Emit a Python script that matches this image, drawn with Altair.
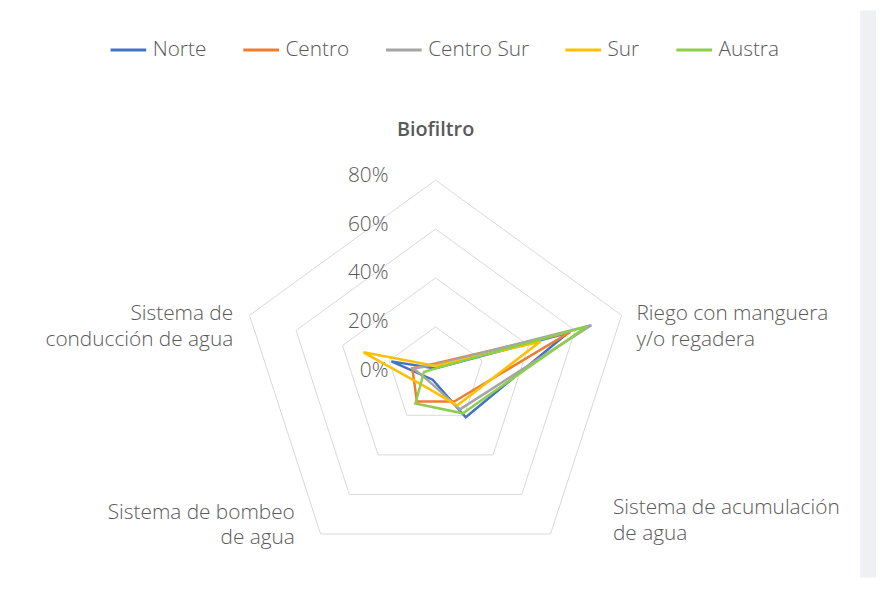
import math
import altair as alt
import pandas as pd

# ---- data ----
categories = [
    "Biofiltro",
    "Riego con manguera y/o regadera",
    "Sistema de acumulación de agua",
    "Sistema de bombeo de agua",
    "Sistema de conducción de agua",
]
category_lines = [
    "Biofiltro",
    "Riego con manguera\ny/o regadera",
    "Sistema de acumulación\nde agua",
    "Sistema de bombeo\nde agua",
    "Sistema de\nconducción de agua",
]
series = ["Norte", "Centro", "Centro Sur", "Sur", "Austra"]
colors = ["#4472C4", "#ED7D31", "#A5A5A5", "#FFC000", "#8CCF4D"]

norte = [3, 57, 21, 2, 19]
centro = [5, 58, 13, 13, 10]
centro_sur = [4.5, 67, 17, 3.5, 9.5]
sur = [4, 45, 15, 6, 31]
austra = [3, 65, 19, 14, 5]

grid_levels = [20, 40, 60, 80]
tick_levels = [0, 20, 40, 60, 80]
tick_labels = ["0%", "20%", "40%", "60%", "80%"]

# ---- tables built from the arrays ----
n = len(categories)
values = [norte, centro, centro_sur, sur, austra]
rows = []
for s, vals in zip(series, values):
    for i in range(n + 1):
        rows.append({"serie": s, "idx": i, "value": vals[i % n]})
lines_df = pd.DataFrame(rows)

grid_df = pd.DataFrame(
    [{"level": lv, "idx": i, "value": lv} for lv in grid_levels for i in range(n + 1)]
)
ticks_df = pd.DataFrame({"idx": [0] * len(tick_levels), "value": tick_levels, "label": tick_labels})
cat_df = pd.DataFrame(
    {"idx": list(range(n)), "value": [max(grid_levels)] * n, "label": category_lines}
)

# ---- layout ----
W, H = 860, 572
cx, cy = 431.5, 368.5          # centre of the radar inside the plot area (px)
ppu = 197.4 / 80               # pixels per percentage point
xdom = [-cx / ppu, (W - cx) / ppu]
ydom = [-(H - cy) / ppu, cy / ppu]

FONT = "Open Sans"
TXT = "#595959"

xs = alt.Scale(domain=xdom, nice=False, zero=False)
ys = alt.Scale(domain=ydom, nice=False, zero=False)
X = alt.X("x:Q", scale=xs, axis=None)
Y = alt.Y("y:Q", scale=ys, axis=None)


def polar(ch):
    return ch.transform_calculate(
        x=f"datum.value*sin(2*PI*datum.idx/{n})",
        y=f"datum.value*cos(2*PI*datum.idx/{n})",
    )


# light grey page frame at the right edge of the white chart panel
frame = alt.Chart(pd.DataFrame({"p": [0]})).mark_rect(color="#eff0f4").encode(
    x=alt.value(W), x2=alt.value(W + 16), y=alt.value(0), y2=alt.value(H)
)

grid = polar(alt.Chart(grid_df)).mark_line(color="#d9d9d9", strokeWidth=1).encode(
    x=X, y=Y, detail="level:N", order="idx:Q"
)

ticks = polar(alt.Chart(ticks_df)).mark_text(
    align="right", baseline="middle", dx=-47.5, dy=-4.5, fontSize=21,
    font=FONT, fontWeight=300, color=TXT
).encode(x=X, y=Y, text="label:N")

label_style = [
    dict(align="center", dx=0, dy=-51, fontWeight=600, fontSize=20),
    dict(align="left", dx=15, dy=-1.5, fontWeight=300, fontSize=21),
    dict(align="left", dx=63, dy=-26, fontWeight=300, fontSize=21),
    dict(align="right", dx=-26, dy=-21.5, fontWeight=300, fontSize=21),
    dict(align="right", dx=-16.5, dy=-1.5, fontWeight=300, fontSize=21),
]
cat_layers = []
for k, st in enumerate(label_style):
    cat_layers.append(
        polar(alt.Chart(cat_df).transform_filter(f"datum.idx == {k}")).mark_text(
            baseline="middle", lineBreak="\n", lineHeight=26, font=FONT, color=TXT, **st
        ).encode(x=X, y=Y, text="label:N")
    )

lines = polar(alt.Chart(lines_df)).mark_line(strokeWidth=2.5, strokeJoin="miter").encode(
    x=X,
    y=Y,
    order="idx:Q",
    color=alt.Color(
        "serie:N",
        scale=alt.Scale(domain=series, range=colors),
        legend=alt.Legend(
            orient="none", legendX=102, legendY=20, direction="horizontal",
            title=None, symbolType="stroke", symbolSize=1296, symbolStrokeWidth=3,
            labelFontSize=21, labelFont=FONT, labelFontWeight=300, labelColor=TXT,
            labelOffset=5, columnPadding=30,
        ),
    ),
)

chart = alt.layer(frame, grid, ticks, *cat_layers, lines).properties(
    width=W, height=H, background="white",
    padding={"left": 0, "top": 0, "right": 16, "bottom": 0},
    autosize=alt.AutoSizeParams(type="none"),
).configure_view(strokeWidth=0)

chart.save("out.html", embed_options={"renderer": "svg", "actions": False})
